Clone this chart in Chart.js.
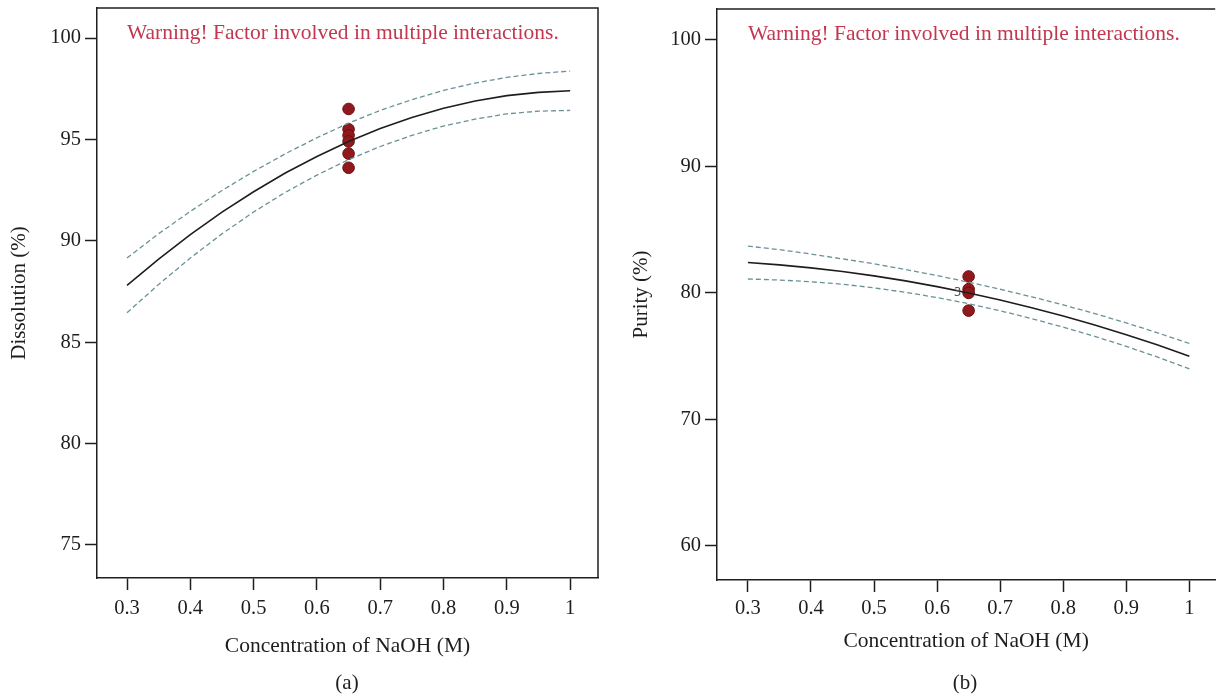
<!DOCTYPE html>
<html>
<head>
<meta charset="utf-8">
<script src="https://cdn.jsdelivr.net/npm/chart.js@4.4.0/dist/chart.umd.min.js"></script>
<style>
  html, body { margin: 0; padding: 0; background: #fff; }
  body { width: 1216px; height: 694px; position: relative; overflow: hidden; }
  canvas { position: absolute; top: 0; }
  #chartA { left: 0; }
  #chartB { left: 608px; }
</style>
</head>
<body>
<canvas id="chartA" width="608" height="694"></canvas>
<canvas id="chartB" width="614" height="694"></canvas>
<script>
// NaOH concentration (M) where the fitted curves were read
const concentration = [0.30, 0.35, 0.40, 0.45, 0.50, 0.55, 0.60, 0.65, 0.70, 0.75, 0.80, 0.85, 0.90, 0.95, 1.00];

// (a) dissolution (%)
const dissolutionFit   = [87.80, 89.10, 90.30, 91.41, 92.42, 93.34, 94.16, 94.90, 95.54, 96.08, 96.54, 96.89, 97.16, 97.32, 97.40];
const dissolutionUpper = [89.15, 90.35, 91.45, 92.48, 93.42, 94.29, 95.08, 95.80, 96.43, 96.96, 97.42, 97.78, 98.06, 98.25, 98.37];
const dissolutionLower = [86.45, 87.85, 89.15, 90.34, 91.42, 92.39, 93.24, 94.00, 94.65, 95.20, 95.66, 96.00, 96.26, 96.39, 96.43];
const dissolutionRunsX = [0.65, 0.65, 0.65, 0.65, 0.65, 0.65];
const dissolutionRuns  = [96.5, 95.5, 95.2, 94.9, 94.3, 93.6];

// (b) purity (%)
const purityFit   = [82.40, 82.22, 81.98, 81.69, 81.35, 80.95, 80.50, 80.00, 79.44, 78.83, 78.17, 77.47, 76.70, 75.88, 75.00];
const purityUpper = [83.70, 83.42, 83.08, 82.69, 82.30, 81.85, 81.37, 80.85, 80.29, 79.69, 79.05, 78.37, 77.63, 76.84, 76.00];
const purityLower = [81.10, 81.02, 80.88, 80.69, 80.40, 80.05, 79.63, 79.15, 78.59, 77.97, 77.29, 76.57, 75.77, 74.92, 74.00];
const purityRunsX = [0.65, 0.65, 0.65, 0.65];
const purityRuns  = [81.3, 80.3, 80.0, 78.6];

// tick labels
const xTicks = [0.3, 0.4, 0.5, 0.6, 0.7, 0.8, 0.9, 1];
const dissolutionTicks = [75, 80, 85, 90, 95, 100];
const purityTicks = [60, 70, 80, 90, 100];

const warningText = 'Warning! Factor involved in multiple interactions.';
const serif = '"Liberation Serif", "DejaVu Serif", serif';
const ink = '#1e1e1e';

function toPoints(xs, ys) {
  return xs.map((x, i) => ({ x: x, y: ys[i] }));
}

function curveSets(fit, upper, lower, runsX, runs) {
  const band = {
    type: 'line', showLine: true, pointRadius: 0, borderWidth: 1.3,
    borderColor: '#6a9296', borderDash: [5, 3], fill: false
  };
  return [
    Object.assign({ data: toPoints(concentration, upper) }, band),
    Object.assign({ data: toPoints(concentration, lower) }, band),
    { type: 'line', data: toPoints(concentration, fit), showLine: true, pointRadius: 0,
      borderWidth: 1.6, borderColor: ink, fill: false },
    { type: 'scatter', data: toPoints(runsX, runs), pointRadius: 5.8,
      backgroundColor: '#8f191c', borderColor: '#6a0f12', borderWidth: 1 }
  ];
}

// frame, warning note and panel label drawn on top of the axes
const decorations = {
  id: 'decorations',
  afterDraw(chart, args, opts) {
    const ctx = chart.ctx;
    const a = chart.chartArea;
    ctx.save();
    ctx.strokeStyle = ink;
    ctx.lineWidth = 1.5;
    ctx.beginPath();
    ctx.moveTo(a.left, a.top);
    ctx.lineTo(a.right, a.top);
    if (opts.rightEdge) {
      ctx.lineTo(a.right, a.bottom);
    }
    ctx.stroke();

    ctx.fillStyle = '#c3364f';
    ctx.font = '21.5px ' + serif;
    ctx.textBaseline = 'middle';
    ctx.textAlign = 'left';
    ctx.fillText(warningText, a.left + opts.noteDx, a.top + 25);

    ctx.fillStyle = ink;
    ctx.textAlign = 'center';
    ctx.font = '21px ' + serif;
    ctx.fillText(opts.panel, opts.panelX, 683);

    if (opts.count) {
      const px = chart.scales.x.getPixelForValue(0.65) - 11;
      const py = chart.scales.y.getPixelForValue(80);
      ctx.fillStyle = '#555';
      ctx.font = '12px "DejaVu Sans", sans-serif';
      ctx.fillText(opts.count, px, py);
    }
    ctx.restore();
  }
};

function makeChart(id, cfg) {
  return new Chart(document.getElementById(id), {
    data: { datasets: curveSets(cfg.fit, cfg.upper, cfg.lower, cfg.runsX, cfg.runs) },
    options: {
      responsive: false,
      animation: false,
      events: [],
      layout: { padding: cfg.padding },
      plugins: {
        legend: { display: false },
        tooltip: { enabled: false },
        decorations: cfg.deco
      },
      scales: {
        x: {
          type: 'linear',
          min: cfg.xMin, max: cfg.xMax,
          afterBuildTicks: s => { s.ticks = xTicks.map(v => ({ value: v })); },
          afterFit: s => { s.height = cfg.xHeight; s.paddingLeft = 0; s.paddingRight = 0; },
          ticks: { callback: v => String(v), color: ink, font: { family: serif, size: 20.5 }, padding: cfg.xTickPad, maxRotation: 0, autoSkip: false },
          grid: { drawOnChartArea: false, tickLength: 12, tickWidth: 1.5, tickColor: ink },
          border: { display: true, color: ink, width: 1.5 },
          title: { display: true, text: 'Concentration of NaOH (M)', color: ink,
                   font: { family: serif, size: 21.5 }, padding: { top: 0, bottom: cfg.xTitlePad } }
        },
        y: {
          type: 'linear',
          min: cfg.yMin, max: cfg.yMax,
          afterBuildTicks: s => { s.ticks = cfg.yTicks.map(v => ({ value: v })); },
          afterFit: s => { s.width = cfg.yWidth; s.paddingTop = 0; s.paddingBottom = 0; },
          ticks: { color: ink, font: { family: serif, size: 20.5 }, padding: 4 },
          grid: { drawOnChartArea: false, tickLength: 12, tickWidth: 1.5, tickColor: ink },
          border: { display: true, color: ink, width: 1.5 },
          title: { display: true, text: cfg.yTitle, color: ink,
                   font: { family: serif, size: 21 }, padding: { top: cfg.yTitlePad, bottom: 0 } }
        }
      }
    },
    plugins: [decorations]
  });
}

makeChart('chartA', {
  fit: dissolutionFit, upper: dissolutionUpper, lower: dissolutionLower,
  runsX: dissolutionRunsX, runs: dissolutionRuns,
  xMin: 0.2526, xMax: 1.044, yMin: 73.37, yMax: 101.48,
  yTicks: dissolutionTicks, yTitle: 'Dissolution (%)',
  padding: { left: 0, right: 10, top: 8, bottom: 0 },
  xHeight: 116, yWidth: 97, xTickPad: 6, xTitlePad: 35, yTitlePad: 7,
  deco: { panel: '(a)', panelX: 347, noteDx: 30, rightEdge: true }
});

makeChart('chartB', {
  fit: purityFit, upper: purityUpper, lower: purityLower,
  runsX: purityRunsX, runs: purityRuns,
  xMin: 0.251, xMax: 1.041, yMin: 57.3, yMax: 102.45,
  yTicks: purityTicks, yTitle: 'Purity (%)',
  padding: { left: 0, right: 0, top: 9, bottom: 0 },
  xHeight: 114, yWidth: 109, xTickPad: 4, xTitlePad: 40, yTitlePad: 21,
  deco: { panel: '(b)', panelX: 357, noteDx: 31, rightEdge: false, count: '3' }
});
</script>
</body>
</html>
